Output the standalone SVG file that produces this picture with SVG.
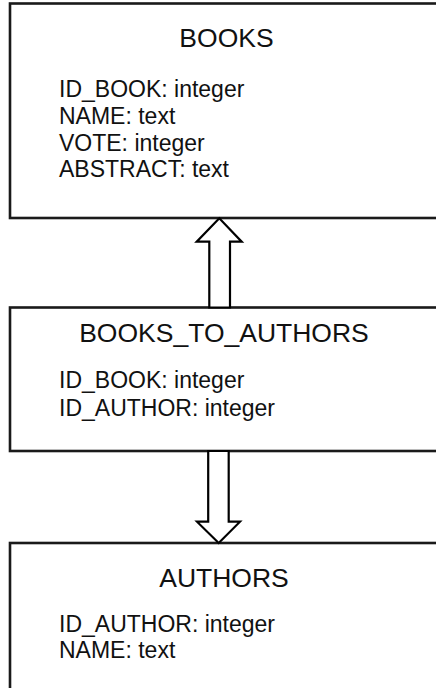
<svg xmlns="http://www.w3.org/2000/svg" width="436" height="688" viewBox="0 0 436 688">
<style>
.box{fill:#fff;stroke:#1a1a1a;stroke-width:2.6}
.arrow{fill:#fff;stroke:#000;stroke-width:2.2;stroke-linejoin:miter}
.title{font-family:"Liberation Sans",Arial,sans-serif;font-size:26.5px;fill:#111;text-anchor:middle}
.field{font-family:"Liberation Sans",Arial,sans-serif;font-size:23px;fill:#111}
</style>
<rect width="436" height="688" fill="#fff"/>
<g id="books">
<rect class="box" x="10" y="3.5" width="440" height="214.5"/>
<text class="title" x="226.5" y="46.5">BOOKS</text>
<text class="field" x="59" y="97">ID_BOOK: integer</text>
<text class="field" x="59" y="124">NAME: text</text>
<text class="field" x="59" y="150.5">VOTE: integer</text>
<text class="field" x="59" y="177">ABSTRACT: text</text>
</g>
<g id="books_to_authors">
<rect class="box" x="10" y="307.5" width="440" height="143.5"/>
<text class="title" x="224" y="341.5">BOOKS_TO_AUTHORS</text>
<text class="field" x="59" y="388">ID_BOOK: integer</text>
<text class="field" x="59" y="415.5">ID_AUTHOR: integer</text>
</g>
<g id="authors">
<rect class="box" x="10" y="543" width="440" height="160"/>
<text class="title" x="224" y="586.5">AUTHORS</text>
<text class="field" x="59" y="631.5">ID_AUTHOR: integer</text>
<text class="field" x="59" y="658">NAME: text</text>
</g>
<g id="connectors">
<polygon class="arrow" points="209.3,307.5 209.3,241.7 196.7,241.7 219.3,218.3 241.7,241.7 230,241.7 230,307.5"/>
<polygon class="arrow" points="208.2,451 208.2,521.7 197,521.7 218.7,543 240,521.7 228.7,521.7 228.7,451"/>
</g>
</svg>
